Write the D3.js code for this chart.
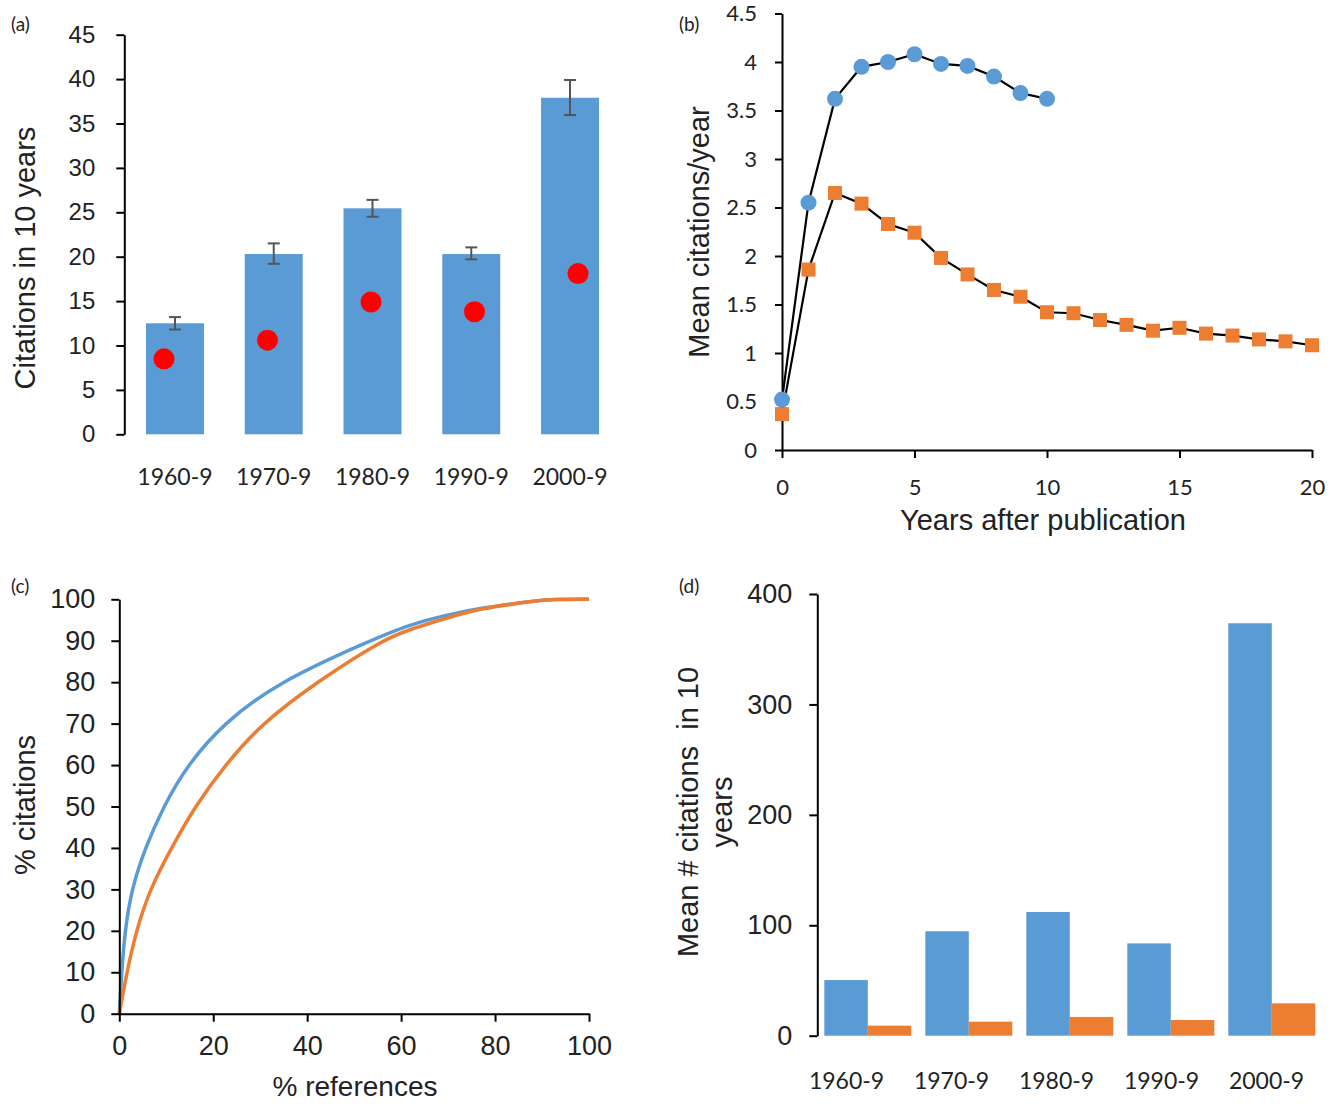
<!DOCTYPE html>
<html>
<head>
<meta charset="utf-8">
<script src="https://cdn.jsdelivr.net/npm/d3@7"></script>
<style>
  body { margin: 0; background: #fff; }
  svg { display: block; }
  .arial { font-family: "Liberation Sans", Arial, sans-serif; fill: #222; }
  .calib { font-family: Lato, "Open Sans", sans-serif; fill: #222; }
</style>
</head>
<body>
<script>
// ---- data ----
const decades = ["1960-9", "1970-9", "1980-9", "1990-9", "2000-9"];

// (a) mean citations in 10 years, error bar ends, and red dots
const meanCites = [12.5, 20.3, 25.45, 20.3, 37.9];
const errLow = [11.8, 19.2, 24.5, 19.7, 35.95];
const errHigh = [13.2, 21.5, 26.4, 21.05, 39.9];
const dotCites = [8.5, 10.6, 14.9, 13.8, 18.1];

// (b) mean citations per year after publication
const yearsBlue = [0, 1, 2, 3, 4, 5, 6, 7, 8, 9, 10];
const citesBlue = [0.52, 2.55, 3.62, 3.95, 4.0, 4.08, 3.98, 3.96, 3.85, 3.68, 3.62];
const yearsOrange = [0, 1, 2, 3, 4, 5, 6, 7, 8, 9, 10, 11, 12, 13, 14, 15, 16, 17, 18, 19, 20];
const citesOrange = [0.37, 1.86, 2.65, 2.54, 2.33, 2.24, 1.98, 1.81, 1.65, 1.58, 1.42,
                     1.41, 1.34, 1.29, 1.23, 1.26, 1.2, 1.18, 1.14, 1.12, 1.08];

// (c) cumulative % citations vs % references
const refsBlue = [0, 0, 0.5, 1.2, 2.6, 5.5, 9.4, 14.5, 22.1, 33.8, 53.3, 62, 70, 77, 87, 91, 100, 100];
const pctBlue = [0, 0, 10, 20, 30, 40, 50, 60, 70, 80, 90, 94, 96.3, 97.9, 99.4, 100, 100, 100];
const refsOrange = [0, 0, 1.6, 3.6, 6.5, 11.1, 16.1, 22.5, 30.3, 42, 56, 62, 70, 77, 87, 91, 100, 100];
const pctOrange = [0, 0, 10, 20, 30, 40, 50, 60, 70, 80, 90.2, 92.8, 95.6, 97.8, 99.4, 100, 100, 100];

// (d) mean # citations in 10 years, two series
const dBlue = [50.4, 94.6, 112, 83.6, 373.5];
const dOrange = [9.1, 12.7, 17, 14.2, 29.3];

const blue = "#5B9BD5", orange = "#ED7D31";

const svg = d3.select("body").append("svg")
  .attr("width", 1336)
  .attr("height", 1104)
  .style("background", "#fff");

function styleAxis(g) {
  g.selectAll("path").attr("stroke", "#000").attr("stroke-width", 2);
  g.selectAll("line").attr("stroke", "#000").attr("stroke-width", 2);
}

function panelLetter(txt, x, y) {
  svg.append("text").attr("class", "calib")
    .attr("x", x).attr("y", y)
    .style("font-size", "19px")
    .text(txt);
}

// ================= (a) =================
const ax = d3.scaleBand().domain(decades).range([125.6, 619.4]).paddingInner(0.413).paddingOuter(0.2065);
const ay = d3.scaleLinear().domain([0, 45]).range([434.3, 34.7]);
const aDotX = d3.scalePoint().domain(decades).range([164, 578]);

svg.append("g").selectAll("rect").data(decades).enter().append("rect")
  .attr("x", d => ax(d))
  .attr("y", (d, i) => ay(meanCites[i]))
  .attr("width", ax.bandwidth())
  .attr("height", (d, i) => ay(0) - ay(meanCites[i]))
  .attr("fill", blue);

const errG = svg.append("g").attr("stroke", "#555").attr("stroke-width", 2);
decades.forEach((d, i) => {
  const cx = ax(d) + ax.bandwidth() / 2;
  errG.append("line").attr("x1", cx).attr("x2", cx).attr("y1", ay(errLow[i])).attr("y2", ay(errHigh[i]));
  errG.append("line").attr("x1", cx - 6).attr("x2", cx + 6).attr("y1", ay(errLow[i])).attr("y2", ay(errLow[i]));
  errG.append("line").attr("x1", cx - 6).attr("x2", cx + 6).attr("y1", ay(errHigh[i])).attr("y2", ay(errHigh[i]));
});

svg.append("g").selectAll("circle").data(decades).enter().append("circle")
  .attr("cx", d => aDotX(d))
  .attr("cy", (d, i) => ay(dotCites[i]))
  .attr("r", 10.5)
  .attr("fill", "#FF0000");

const aYAxis = svg.append("g").attr("transform", "translate(124.3,0)")
  .call(d3.axisLeft(ay).tickValues(d3.range(0, 46, 5)).tickSize(8).tickSizeOuter(0).tickPadding(21));
styleAxis(aYAxis);
aYAxis.selectAll("text").attr("class", "arial").style("font-size", "24px").attr("fill", "#222");

const aXAxis = svg.append("g").attr("transform", "translate(0,434.3)")
  .call(d3.axisBottom(ax).tickSize(0));
aXAxis.select(".domain").remove();
aXAxis.selectAll("text").attr("class", "calib").attr("y", 43).attr("dy", "0.35em")
  .style("font-size", "23px").attr("fill", "#222");

svg.append("text").attr("class", "arial")
  .attr("transform", "translate(35,258) rotate(-90)")
  .attr("text-anchor", "middle")
  .style("font-size", "29px")
  .text("Citations in 10 years");

panelLetter("(a)", 11, 31);

// ================= (b) =================
const bx = d3.scaleLinear().domain([0, 20]).range([782, 1312]);
const by = d3.scaleLinear().domain([0, 4.5]).range([450, 13.5]);

const bXAxis = svg.append("g").attr("transform", "translate(0,450)")
  .call(d3.axisBottom(bx).tickValues([0, 5, 10, 15, 20]).tickSize(8).tickSizeOuter(0));
styleAxis(bXAxis);
bXAxis.selectAll("text").attr("class", "calib").attr("y", 37).attr("dy", "0.35em")
  .style("font-size", "22px").attr("fill", "#222");

const bYAxis = svg.append("g").attr("transform", "translate(782,0)")
  .call(d3.axisLeft(by).tickValues(d3.range(0, 4.51, 0.5)).tickSize(7).tickSizeOuter(0).tickPadding(18)
    .tickFormat(d3.format("~g")));
styleAxis(bYAxis);
bYAxis.selectAll("text").attr("class", "calib").style("font-size", "22px").attr("fill", "#222");

const bLine = d3.line().x(d => bx(d[0])).y(d => by(d[1]));
const blueSeries = yearsBlue.map((x, i) => [x, citesBlue[i]]);
const orangeSeries = yearsOrange.map((x, i) => [x, citesOrange[i]]);

svg.append("path").datum(orangeSeries).attr("d", bLine)
  .attr("fill", "none").attr("stroke", "#000").attr("stroke-width", 2.2);
svg.append("path").datum(blueSeries).attr("d", bLine)
  .attr("fill", "none").attr("stroke", "#000").attr("stroke-width", 2.2);

svg.append("g").selectAll("rect").data(orangeSeries).enter().append("rect")
  .attr("x", d => bx(d[0]) - 7)
  .attr("y", d => by(d[1]) - 7)
  .attr("width", 14).attr("height", 14)
  .attr("fill", orange);

svg.append("g").selectAll("circle").data(blueSeries).enter().append("circle")
  .attr("cx", d => bx(d[0]))
  .attr("cy", d => by(d[1]))
  .attr("r", 8)
  .attr("fill", blue);

svg.append("text").attr("class", "arial")
  .attr("transform", "translate(709,232) rotate(-90)")
  .attr("text-anchor", "middle")
  .style("font-size", "29px")
  .text("Mean citations/year");

svg.append("text").attr("class", "arial")
  .attr("x", 1043).attr("y", 530)
  .attr("text-anchor", "middle")
  .style("font-size", "29px")
  .text("Years after publication");

panelLetter("(b)", 679, 31);

// ================= (c) =================
const cx = d3.scaleLinear().domain([0, 100]).range([119.3, 589]);
const cy = d3.scaleLinear().domain([0, 100]).range([1013.7, 599.3]);

const cLine = d3.line().x(d => cx(d[0])).y(d => cy(d[1])).curve(d3.curveBasis);
svg.append("path").datum(refsBlue.map((x, i) => [x, pctBlue[i]])).attr("d", cLine)
  .attr("fill", "none").attr("stroke", blue).attr("stroke-width", 3.5);
svg.append("path").datum(refsOrange.map((x, i) => [x, pctOrange[i]])).attr("d", cLine)
  .attr("fill", "none").attr("stroke", orange).attr("stroke-width", 3.5);

const cXAxis = svg.append("g").attr("transform", "translate(0,1013.7)")
  .call(d3.axisBottom(cx).tickValues(d3.range(0, 101, 20)).tickSize(8).tickSizeOuter(0));
styleAxis(cXAxis);
cXAxis.selectAll("text").attr("class", "arial").attr("y", 32).attr("dy", "0.35em")
  .style("font-size", "27px").attr("fill", "#222");

const cYAxis = svg.append("g").attr("transform", "translate(119.3,0)")
  .call(d3.axisLeft(cy).tickValues(d3.range(0, 101, 10)).tickSize(8).tickSizeOuter(0).tickPadding(16));
styleAxis(cYAxis);
cYAxis.selectAll("text").attr("class", "arial").style("font-size", "27px").attr("fill", "#222");

svg.append("text").attr("class", "arial")
  .attr("transform", "translate(35,805) rotate(-90)")
  .attr("text-anchor", "middle")
  .style("font-size", "29px")
  .text("% citations");

svg.append("text").attr("class", "arial")
  .attr("x", 355).attr("y", 1096)
  .attr("text-anchor", "middle")
  .style("font-size", "28px")
  .text("% references");

panelLetter("(c)", 11, 593);

// ================= (d) =================
const dx = d3.scaleBand().domain(decades).range([817.3, 1322.3]).paddingInner(0.139).paddingOuter(0.0695);
const dSub = d3.scaleBand().domain(["blue", "orange"]).range([0, dx.bandwidth()]);
const dy = d3.scaleLinear().domain([0, 400]).range([1035.7, 594]);
const dLabelX = d3.scalePoint().domain(decades).range([846, 1266]);

const dGroups = svg.append("g").selectAll("g").data(decades).enter().append("g")
  .attr("transform", d => `translate(${dx(d)},0)`);
dGroups.append("rect")
  .attr("x", dSub("blue"))
  .attr("y", (d, i) => dy(dBlue[i]))
  .attr("width", dSub.bandwidth())
  .attr("height", (d, i) => dy(0) - dy(dBlue[i]))
  .attr("fill", blue);
dGroups.append("rect")
  .attr("x", dSub("orange"))
  .attr("y", (d, i) => dy(dOrange[i]))
  .attr("width", dSub.bandwidth())
  .attr("height", (d, i) => dy(0) - dy(dOrange[i]))
  .attr("fill", orange);

const dYAxis = svg.append("g").attr("transform", "translate(817.3,0)")
  .call(d3.axisLeft(dy).tickValues([0, 100, 200, 300, 400]).tickSize(8).tickSizeOuter(0).tickPadding(17));
styleAxis(dYAxis);
dYAxis.selectAll("text").attr("class", "arial").style("font-size", "27px").attr("fill", "#222");

const dXAxis = svg.append("g").attr("transform", "translate(0,1035.7)")
  .call(d3.axisBottom(dLabelX).tickSize(0));
dXAxis.select(".domain").remove();
dXAxis.selectAll("text").attr("class", "calib").attr("y", 45).attr("dy", "0.35em")
  .style("font-size", "23px").attr("fill", "#222");

const dTitle = svg.append("text").attr("class", "arial")
  .attr("transform", "translate(705,812) rotate(-90)")
  .attr("text-anchor", "middle")
  .style("font-size", "29px");
dTitle.append("tspan").attr("x", 0).attr("y", -7).text("Mean # citations  in 10").style("white-space", "pre");
dTitle.append("tspan").attr("x", 0).attr("y", 27).text("years");

panelLetter("(d)", 679, 593);
</script>
</body>
</html>
